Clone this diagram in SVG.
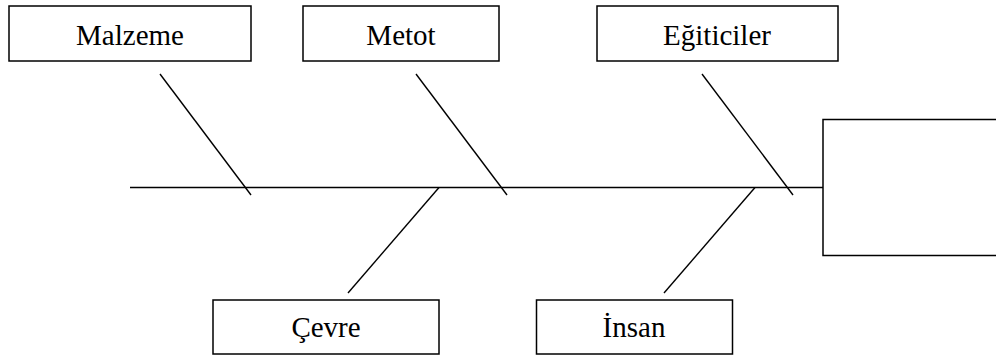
<svg xmlns="http://www.w3.org/2000/svg" width="996" height="356" viewBox="0 0 996 356">
  <style>
    .box { fill: #fff; stroke: #000; stroke-width: 1.5; }
    .bone { stroke: #000; stroke-width: 1.4; fill: none; }
    .label { font-family: "Liberation Serif", "Times New Roman", serif; font-size: 29px; fill: #000; text-anchor: middle; }
  </style>
  <rect width="996" height="356" fill="#fff"/>

  <!-- spine and branch bones -->
  <g id="connectors">
    <line class="bone" x1="130" y1="187.5" x2="823" y2="187.5"/>
    <line class="bone" x1="160" y1="74" x2="251" y2="195"/>
    <line class="bone" x1="416" y1="74" x2="507" y2="195"/>
    <line class="bone" x1="702" y1="74" x2="793" y2="195"/>
    <line class="bone" x1="439" y1="187.5" x2="348" y2="293"/>
    <line class="bone" x1="755" y1="187.5" x2="664" y2="293"/>
  </g>

  <!-- effect (head) box, open past the right edge -->
  <g id="effect">
    <rect class="box" x="823" y="119.5" width="180" height="136"/>
  </g>

  <!-- cause categories -->
  <g id="malzeme">
    <rect class="box" x="9" y="6" width="242" height="55"/>
    <text class="label" x="130" y="45">Malzeme</text>
  </g>
  <g id="metot">
    <rect class="box" x="303" y="6" width="196" height="55"/>
    <text class="label" x="401" y="45">Metot</text>
  </g>
  <g id="egiticiler">
    <rect class="box" x="597" y="6" width="241" height="55"/>
    <text class="label" x="717" y="45">Eğiticiler</text>
  </g>
  <g id="cevre">
    <rect class="box" x="213" y="300" width="226" height="54"/>
    <text class="label" x="326" y="337">Çevre</text>
  </g>
  <g id="insan">
    <rect class="box" x="536.5" y="300" width="196" height="54"/>
    <text class="label" x="634" y="337">İnsan</text>
  </g>
</svg>
